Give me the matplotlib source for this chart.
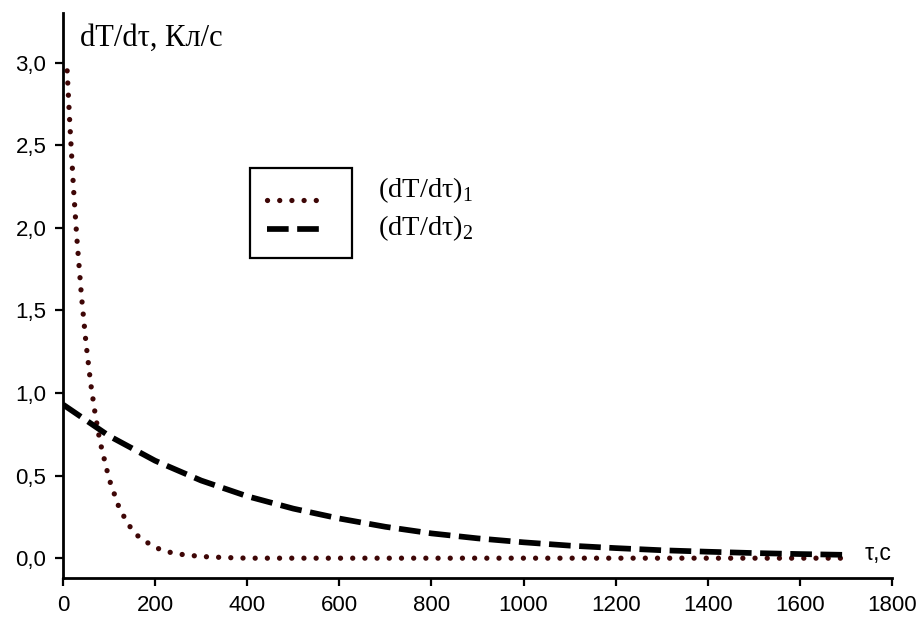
import matplotlib
matplotlib.use("Agg")
import matplotlib.pyplot as plt
from matplotlib.patches import Rectangle
from matplotlib.lines import Line2D

plt.rcParams["mathtext.fontset"] = "custom"
plt.rcParams["mathtext.rm"] = "Liberation Serif"

# Heating rate curves
t1 = [9, 15, 23, 30, 40, 50, 60, 70, 80, 100, 120, 140, 160, 180, 200, 225, 250,
      300, 350, 400, 500, 600, 700, 800, 900, 1000, 1100, 1200, 1300, 1400, 1500,
      1600, 1700]
rate1 = [2.95, 2.62, 2.23, 1.94, 1.59, 1.30, 1.06, 0.87, 0.71, 0.48, 0.32, 0.21,
         0.14, 0.10, 0.065, 0.04, 0.025, 0.01, 0.004, 0.0, 0.0, 0.0, 0.0, 0.0,
         0.0, 0.0, 0.0, 0.0, 0.0, 0.0, 0.0, 0.0, 0.0]

t2 = [0, 100, 200, 300, 400, 500, 600, 700, 800, 900, 1000, 1100, 1200, 1300,
      1400, 1500, 1600, 1700]
rate2 = [0.93, 0.74, 0.59, 0.47, 0.375, 0.30, 0.24, 0.19, 0.15, 0.12, 0.096,
         0.076, 0.061, 0.048, 0.039, 0.031, 0.025, 0.02]

xticks = [0, 200, 400, 600, 800, 1000, 1200, 1400, 1600, 1800]
yticks = [0.0, 0.5, 1.0, 1.5, 2.0, 2.5, 3.0]
ytick_labels = ["0,0", "0,5", "1,0", "1,5", "2,0", "2,5", "3,0"]

fig = plt.figure(figsize=(9.17, 6.19), dpi=100)
AX_L, AX_R, AX_T, AX_B = 63, 892, 13, 578
ax = fig.add_axes([AX_L / 917, 1 - AX_B / 619, (AX_R - AX_L) / 917,
                   (AX_B - AX_T) / 619])

dot_color = "#3e0606"
dot_style = dict(color=dot_color, lw=3.8, linestyle=(0, (0.01, 2.3)),
                 dash_capstyle="round")
dash_style = dict(color="black", lw=4.1, linestyle=(0, (3.8, 1.5)),
                  dash_capstyle="butt")

ax.plot(t1, rate1, **dot_style)
ax.plot(t2, rate2, **dash_style)

ax.set_xlim(0, 1800)
ax.set_ylim(-0.12, 3.30)
ax.set_xticks(xticks)
ax.set_xticklabels([str(v) for v in xticks])
ax.set_yticks(yticks)
ax.set_yticklabels(ytick_labels)

for s in ("top", "right"):
    ax.spines[s].set_visible(False)
for s in ("left", "bottom"):
    ax.spines[s].set_linewidth(2.0)
ax.tick_params(direction="out", length=6, width=1.6, labelsize=16, pad=6)
for lab in ax.get_xticklabels() + ax.get_yticklabels():
    lab.set_family("Liberation Sans")

ax.text(0.02, 0.955, "dT/dτ, Кл/с", transform=ax.transAxes, fontsize=22,
        family="Liberation Serif", va="center", ha="left")
ax.text(1740, 0.03, "τ,с", transform=ax.transData,
        fontsize=16.5, family="Liberation Sans", va="center", ha="left")

# Legend: framed line samples with labels outside the frame
def ax_xy(px, py):
    return ((px - AX_L) / (AX_R - AX_L), (AX_B - py) / (AX_B - AX_T))

x0, y0 = ax_xy(250, 258)
x1, y1 = ax_xy(352, 168)
ax.add_patch(Rectangle((x0, y0), x1 - x0, y1 - y0, transform=ax.transAxes,
                       fill=False, lw=1.6, edgecolor="black"))
lx0, ly = ax_xy(267, 200)
lx1, _ = ax_xy(320, 200)
ax.add_line(Line2D([lx0, lx1], [ly, ly], transform=ax.transAxes, **dot_style))
lx0, ly = ax_xy(267, 229)
lx1, _ = ax_xy(327, 229)
ax.add_line(Line2D([lx0, lx1], [ly, ly], transform=ax.transAxes, **dash_style))

tx, ty = ax_xy(378, 190)
ax.text(tx, ty, r"(dT/dτ)$_\mathrm{1}$", transform=ax.transAxes, fontsize=20.5,
        family="Liberation Serif", va="center", ha="left")
tx, ty = ax_xy(378, 228)
ax.text(tx, ty, r"(dT/dτ)$_\mathrm{2}$", transform=ax.transAxes, fontsize=20.5,
        family="Liberation Serif", va="center", ha="left")

fig.savefig("out.png", dpi=100)
